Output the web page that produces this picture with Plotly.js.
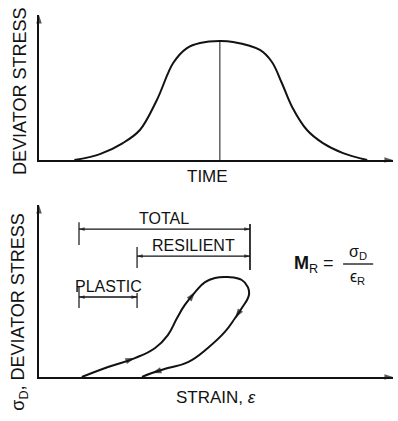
<!DOCTYPE html>
<html>
<head>
<meta charset="utf-8">
<script src="https://cdn.plot.ly/plotly-3.0.1.min.js"></script>
<style>html,body{margin:0;padding:0;background:#fff;}#chart{width:398px;height:421px;}</style>
</head>
<body>
<div id="chart"></div>
<script>
// ---- Top panel: deviator stress pulse vs time ----
const timeX   = [1.0, 1.72, 2.37, 2.85, 3.33, 3.79, 4.18, 4.55, 5.11, 5.48, 6.24, 6.58, 6.86, 7.15, 7.57, 8.02, 8.59, 9.27];
const stressY = [0, 0.41, 1.17, 2.07, 4.14, 6.69, 7.72, 8.07, 8.21, 8.14, 7.59, 6.76, 5.31, 3.66, 2.07, 1.17, 0.48, 0];
const peakTime = 5.11;
const peakStress = 8.21;

// ---- Bottom panel: hysteresis loop (strain vs deviator stress) ----
const strainX = [1.21, 1.95, 2.71, 3.28, 3.64, 3.90, 4.12, 4.41, 4.69, 4.97, 5.34, 5.73, 5.90, 5.93, 5.73, 5.54, 5.25, 4.77, 4.21, 3.64, 3.19, 2.91];
const loopY   = [0, 0.58, 1.10, 1.69, 2.44, 3.43, 4.19, 4.94, 5.52, 5.76, 5.81, 5.64, 5.23, 4.77, 4.01, 3.43, 2.62, 1.69, 0.87, 0.52, 0.23, 0];
const loopArrowIdx = [2, 7, 15, 20];

// strain components (dimension lines)
const totalStrain     = [1.13, 5.96];
const resilientStrain = [2.77, 5.96];
const plasticStrain   = [1.13, 2.77];
const dimLabels = ['TOTAL', 'RESILIENT', 'PLASTIC'];

const INK = '#121212';
const FONT = 'Liberation Sans, Arial, Helvetica, sans-serif';

const traces = [
  {x: timeX, y: stressY, xaxis: 'x', yaxis: 'y', mode: 'lines',
   line: {color: INK, width: 2, shape: 'spline', smoothing: 1}, hoverinfo: 'skip'},
  {x: [peakTime, peakTime], y: [0, peakStress], xaxis: 'x', yaxis: 'y', mode: 'lines',
   line: {color: INK, width: 1}, hoverinfo: 'skip'},
  {x: strainX, y: loopY, xaxis: 'x2', yaxis: 'y2', mode: 'lines',
   line: {color: INK, width: 2, shape: 'spline', smoothing: 1.3}, hoverinfo: 'skip'}
];

// arrowhead helper: marker oriented from previous point to the tip
function arrowHead(xa, ya, xs, ys, size) {
  traces.push({x: xs, y: ys, xaxis: xa, yaxis: ya, mode: 'markers', cliponaxis: false,
    hoverinfo: 'skip',
    marker: {symbol: 'arrow', angleref: 'previous', size: [0, size], color: INK,
      line: {width: 0}}});
}

const axisBase = {showline: true, linecolor: INK, linewidth: 2, showgrid: false, zeroline: false,
  showticklabels: false, ticks: '', fixedrange: true};

const shapes = [];
const annotations = [];

function seg(x0, y0, x1, y1, w) {
  shapes.push({type: 'line', xref: 'x2', yref: 'y2', x0: x0, y0: y0, x1: x1, y1: y1,
    line: {color: INK, width: w || 1.2}});
}
function dimLine(range, y, tickL, tickR, label) {
  seg(range[0], y, range[1], y, 1.3);
  seg(range[0], tickL[0], range[0], tickL[1], 1.2);
  seg(range[1], tickR[0], range[1], tickR[1], 1.2);
  arrowHead('x2', 'y2', [range[0] + 0.3, range[0]], [y, y], 6);
  arrowHead('x2', 'y2', [range[1] - 0.3, range[1]], [y, y], 6);
  annotations.push({xref: 'x2', yref: 'y2', x: (range[0] + range[1]) / 2, y: y, yshift: 11,
    text: label, showarrow: false, font: {family: FONT, size: 16, color: INK}});
}
dimLine(totalStrain, 8.6, [7.67, 9.0], [6.22, 8.9], dimLabels[0]);
dimLine(resilientStrain, 7.03, [6.34, 7.56], [6.22, 8.9], dimLabels[1]);
dimLine(plasticStrain, 4.65, [4.01, 5.23], [4.01, 4.88], dimLabels[2]);

// arrows along the loop
loopArrowIdx.forEach(function (i) {
  arrowHead('x2', 'y2', [strainX[i - 1], strainX[i]], [loopY[i - 1], loopY[i]], 10);
});

// axis arrowheads
[['x', 'y'], ['x2', 'y2']].forEach(function (p) {
  arrowHead(p[0], p[1], [0, 0], [9.5, 10], 9);
  arrowHead(p[0], p[1], [9.8, 10], [0, 0], 9);
});

// axis titles
annotations.push({xref: 'paper', yref: 'paper', x: -0.054, y: 0.79, textangle: -90,
  text: 'DEVIATOR STRESS', showarrow: false, xanchor: 'center', yanchor: 'middle',
  font: {family: FONT, size: 18, color: INK}});
annotations.push({xref: 'paper', yref: 'paper', x: 0.477, y: 0.555,
  text: 'TIME', showarrow: false, xanchor: 'center', yanchor: 'middle',
  font: {family: FONT, size: 17, color: INK}});
annotations.push({xref: 'paper', yref: 'paper', x: -0.054, y: 0.18, textangle: -90,
  text: 'σ<sub>D</sub>, DEVIATOR STRESS', showarrow: false, xanchor: 'center', yanchor: 'middle',
  font: {family: FONT, size: 18, color: INK}});
annotations.push({xref: 'paper', yref: 'paper', x: 0.5, y: -0.058,
  text: 'STRAIN, <i>ε</i>', showarrow: false, xanchor: 'center', yanchor: 'middle',
  font: {family: FONT, size: 17, color: INK}});

// resilient modulus formula
annotations.push({xref: 'x2', yref: 'y2', x: 7.15, y: 6.57, xanchor: 'left', yanchor: 'middle',
  text: '<b>M</b><sub>R</sub> =', showarrow: false, font: {family: FONT, size: 18, color: INK}});
shapes.push({type: 'line', xref: 'x2', yref: 'y2', x0: 8.59, x1: 9.44, y0: 6.57, y1: 6.57,
  line: {color: INK, width: 1.3}});
annotations.push({xref: 'x2', yref: 'y2', x: 9.0, y: 6.57, yshift: 12,
  text: 'σ<sub>D</sub>', showarrow: false, font: {family: FONT, size: 16, color: INK}});
annotations.push({xref: 'x2', yref: 'y2', x: 9.0, y: 6.57, yshift: -13,
  text: 'ϵ<sub>R</sub>', showarrow: false, font: {family: FONT, size: 16, color: INK}});

const layout = {
  width: 398, height: 421,
  margin: {l: 39, r: 5, t: 15, b: 44},
  paper_bgcolor: '#fff', plot_bgcolor: '#fff',
  showlegend: false, hovermode: false,
  xaxis: Object.assign({}, axisBase, {domain: [0, 1], range: [0, 10], anchor: 'y'}),
  yaxis: Object.assign({}, axisBase, {domain: [0.5994, 1], range: [0, 10], anchor: 'x'}),
  xaxis2: Object.assign({}, axisBase, {domain: [0, 1], range: [0, 10], anchor: 'y2'}),
  yaxis2: Object.assign({}, axisBase, {domain: [0, 0.4751], range: [0, 10], anchor: 'x2'}),
  shapes: shapes,
  annotations: annotations
};

Plotly.newPlot('chart', traces, layout, {displayModeBar: false, staticPlot: true});
</script>
</body>
</html>
